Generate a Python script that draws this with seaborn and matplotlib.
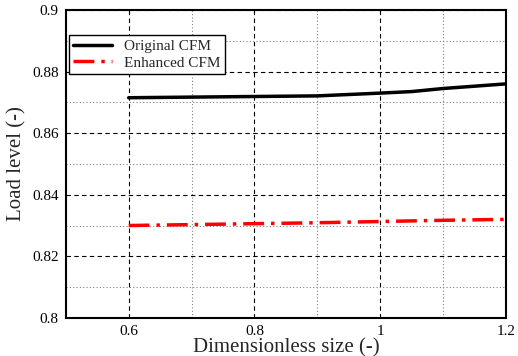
import numpy as np
import pandas as pd
import matplotlib
matplotlib.use("Agg")
import matplotlib.pyplot as plt
from matplotlib.ticker import MultipleLocator
import seaborn as sns

# values
size = [0.6, 0.7, 0.8, 0.9, 1.0, 1.05, 1.1, 1.2]
original_cfm = [0.8715, 0.8717, 0.8719, 0.8721, 0.8730, 0.8735, 0.8745, 0.8760]
enhanced_cfm = [0.8300, 0.8303, 0.8306, 0.8309, 0.8313, 0.8315, 0.8317, 0.8320]

df = pd.DataFrame({
    'size': size * 2,
    'load': original_cfm + enhanced_cfm,
    'model': ['Original CFM'] * len(size) + ['Enhanced CFM'] * len(size),
})

sns.set_style('white')
plt.rcParams['font.family'] = ['Liberation Serif', 'DejaVu Serif']

fig = plt.figure(figsize=(5.18, 3.56), dpi=100)
ax = fig.add_axes([0.127, 0.107, 0.850, 0.865])

sns.lineplot(data=df, x='size', y='load', hue='model', style='model',
             palette={'Original CFM': 'black', 'Enhanced CFM': 'red'},
             dashes={'Original CFM': '', 'Enhanced CFM': (6, 2, 1, 2)},
             linewidth=2.5, ax=ax, zorder=3)

ax.set_xlim(0.5, 1.2)
ax.set_ylim(0.8, 0.9)
ax.xaxis.set_minor_locator(MultipleLocator(0.1))
ax.yaxis.set_minor_locator(MultipleLocator(0.01))
ax.set_xticks([0.6, 0.8, 1.0, 1.2])
ax.set_xticklabels(['0.6', '0.8', '1', '1.2'])
ax.set_yticks([0.8, 0.82, 0.84, 0.86, 0.88, 0.9])
ax.set_yticklabels(['0.8', '0.82', '0.84', '0.86', '0.88', '0.9'])

ax.grid(which='major', color='black', linestyle=(0, (4, 3)), linewidth=0.8)
ax.grid(which='minor', color='gray', linestyle=(0, (1, 2)), linewidth=0.8)
ax.tick_params(which='both', direction='in', length=0, labelsize=11,
               colors='black', pad=5)
for sp in ax.spines.values():
    sp.set_color('black')
    sp.set_linewidth(1.5)

ax.set_xlabel('Dimensionless size (-)', fontsize=15, labelpad=0)
ax.set_ylabel('Load level (-)', fontsize=15, labelpad=4)

leg = ax.legend(loc='upper left', bbox_to_anchor=(0.0, 0.93), fontsize=11,
                frameon=True, fancybox=False, handlelength=2.5,
                borderpad=0.3, labelspacing=0.2, borderaxespad=0.2)
leg.get_frame().set_edgecolor('black')
leg.get_frame().set_linewidth(1.0)
leg.get_frame().set_alpha(1)

fig.savefig('out.png', dpi=100)
